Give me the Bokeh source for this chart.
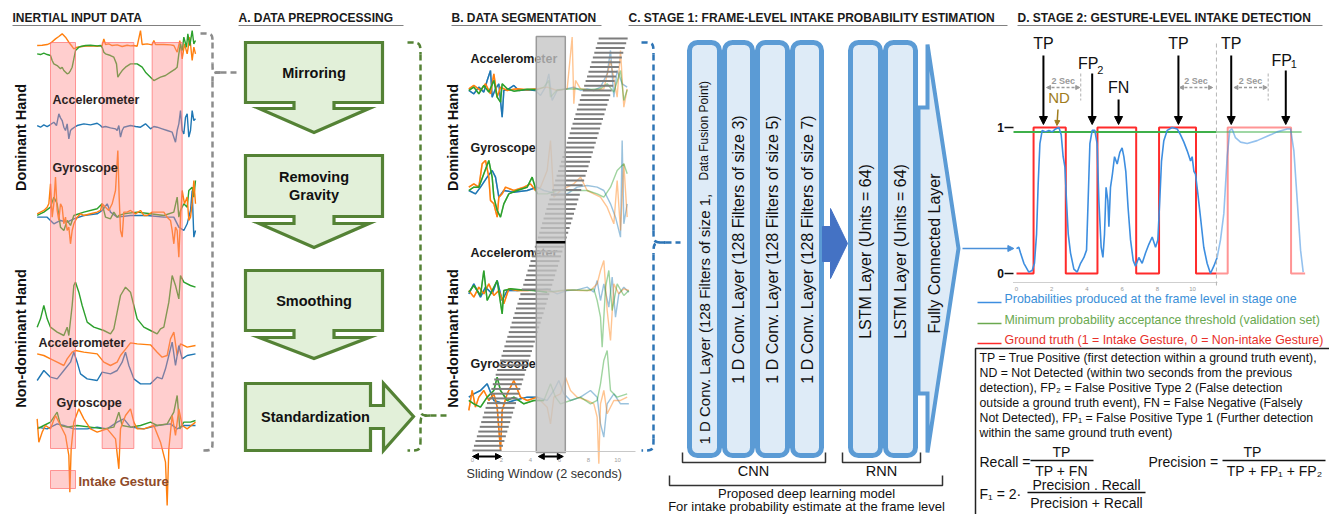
import numpy as np
from bokeh.plotting import figure
from bokeh.models import Range1d, Arrow, NormalHead
from bokeh.embed import file_html
from bokeh.resources import INLINE
from bokeh.core.properties import value

# ============================ DATA ============================
# ---- Inertial input data (sample index, sensor value in arbitrary units) ----
in_dacc_or_t = [4,7,10,12,15,17,19,21,23,25,26,28,32,36,40,43,44,45,47,49,52,55,58,60,62,64,66,67,70,73,74,75,80,84,86,88,89.6,91,92.4,94,95.6,97,98,99]
in_dacc_or_v = [0.5,0.6,0.8,1.2,2.5,3.2,4.0,3.0,1.5,0.2,-0.5,0.0,0.3,0.4,0.3,0.5,2.5,0.8,1.0,0.5,0.7,0.2,0.6,0.4,0.5,0.3,5.0,0.8,1.0,0.7,2.0,0.8,0.8,0.7,0.5,-1.5,2.0,-3.5,1.0,-2.0,3.0,-4.0,0.0,-2.0]
in_dacc_gr_t = [4,6,8,10,12,13,14,16,18,19,20,22,23,24,25,26,27,29,30,33,36,40,42,43,44,45,48,50,51.6,52.4,53.6,55,57,60,64,67,69,72,74,76,78,81,84,87,88,89,90,91,92,93.6,94.4,95.6,97,98,99]
in_dacc_gr_v = [-2.0,-2.2,-1.8,-2.2,-2.5,-4.0,-5.0,-5.5,-6.5,-6.0,-7.0,-8.0,-7.8,-7.0,-6.0,-3.5,-1.0,0.0,0.2,0.5,0.6,0.4,0.5,0.0,-1.5,-2.0,-2.5,-3.0,-5.0,-9.0,-8.0,-7.0,-6.0,-5.0,-5.0,-6.0,-7.5,-9.0,-10.0,-9.5,-9.0,-8.5,-7.5,-6.5,-6.0,-2.0,1.0,-1.0,3.0,0.0,4.0,0.5,5.0,1.0,2.0]
in_dacc_bl_t = [4,6,8,10,12,14,15.6,17,18,19,20,21,22,23,24,25,27,28,32,36,40,42,43,45,48,51,52,53,54,55,56,60,63,66,69,72,74,76,79,82,85,87,88,89,90,91,92,93,94,95,96,97,98,99]
in_dacc_bl_v = [0.5,0.0,0.7,0.2,0.8,1.5,0.5,4.0,2.8,2.0,0.0,-1.0,1.0,-3.5,-1.0,-0.5,0.2,0.5,1.0,0.7,1.2,0.5,0.0,0.2,-0.2,-0.5,-1.0,0.5,-3.0,-1.0,0.0,0.5,0.2,0.0,1.0,-0.5,0.2,0.0,-0.5,-1.0,-1.5,-4.5,-1.0,1.0,5.0,-1.0,-2.0,3.0,4.0,-3.0,-1.0,5.0,2.0,2.5]
in_dgyr_or_t = [4,6,8,10,11,12,13,14,15,16,17,18,19,20,21,22,23,24,25,26,28,30,32,36,40,42,43,45,47,49,51,52.4,53.2,54,55,56,58,60,63,66,68,70,73,76,80,82,84,85,86,87,88,89,90,91,92.4,94,95,96,97,98,99]
in_dgyr_or_v = [0,0.5,1.0,2.0,3.0,9.0,-1.0,3.0,11.0,1.0,-2.0,3.0,2.0,-3.0,-1.0,-5.0,-4.0,-9.0,-5.0,-3.0,-1.0,0,-0.5,0,0.5,1.0,3.0,2.0,1.0,3.0,7.0,19.0,5.0,-5.0,-7.0,0.5,0.5,1.0,0,1.0,-0.5,-0.5,0.5,0.5,0.5,-1.0,-2.0,-5.0,-9.0,-4.0,-5.0,-13.0,-1.0,7.0,3.0,5.0,-2.0,-1.0,3.0,10.0,3.0]
in_dgyr_gr_t = [4,8,12,14,16,18,20,22,24,26,32,40,43,45,48,50,52,53,56,64,72,80,86,88,89,90,92,94,95,97,98,99]
in_dgyr_gr_v = [-0.5,0.5,2.0,5.0,3.0,-4.0,-5.0,-2.0,-3.5,-0.5,0.5,1.5,3.0,-1.0,-1.5,0.5,-1.0,-0.5,0,0.5,0,-0.5,0.5,5.0,-1.0,1.0,3.0,2.0,7.0,8.0,5.0,10.0]
in_dgyr_bl_t = [4,10,14,18,22,26,32,40,43,46,48,52,60,70,80,86,89,92,94,96,97,98,99]
in_dgyr_bl_v = [-1.0,-1.0,-3.0,-2.0,-2.5,-1.5,-0.5,0,1.0,3.0,0.5,-1.0,-0.5,-0.5,-1.0,-1.0,-4.0,-5.0,-3.0,1.0,7.0,-7.0,-5.0]
in_nacc_gr_t = [4,6,8,10,12,16,20,22,23,25,26,27,29,31,34,38,44,48,50,52,54,57,60,62,64,68,72,76,78,80,83,85,87,89,90,92,96,99]
in_nacc_gr_v = [8.5,11.0,15.0,11.0,8.5,7.0,6.0,8.5,6.0,15.0,21.0,22.0,19.0,15.0,10.0,8.5,7.5,6.5,8.0,13.0,18.0,20.5,19.0,15.0,11.0,8.5,7.5,6.5,8.0,8.5,16.0,24.0,21.0,17.0,24.0,22.0,21.0,20.5]
in_nacc_or_t = [4,8,12,16,20,22,25,27,32,40,44,48,52,54,58,60,64,72,76,79,82,84,86,88,90,94,99]
in_nacc_or_v = [0.5,0,-1.0,-2.0,-3.0,-1.0,1.0,1.5,1.0,0.5,-2.0,-3.0,-2.0,0,2.5,3.8,3.5,3.2,1.0,-0.5,0,5.0,7.0,0,3.5,2.5,3.0]
in_nacc_bl_t = [4,8,12,16,20,24,26,28,30,34,40,43,48,52,55,57,59,62,66,72,76,79,81,83,85,87,89,91,94,99]
in_nacc_bl_v = [-7.5,-4.5,-6.5,-7.0,-4.5,-2.0,1.0,-2.0,-5.5,-7.0,-7.5,-5.0,-5.5,-4.5,-2.0,1.0,-3.0,-7.0,-8.5,-8.5,-6.5,-7.0,-4.0,0,4.0,-3.0,3.0,-1.0,0,0.5]
in_ngyr_or_t = [4,5,7,9,12,15,18,21,23,23.6,24.4,26,29,32,36,40,46,51,53,54,57,60,62,64,68,74,78,81,82,83,85,87,89,91,94,99]
in_ngyr_or_v = [2.0,-5.0,-2.0,0,-1.0,3.0,0,-3.0,-9.0,-20.0,-7.0,1.0,5.0,2.0,-1.0,-2.0,-1.0,-4.0,-13.0,-1.0,3.0,5.0,1.0,-1.0,-1.0,0,-5.0,-11.0,-24.0,-7.0,3.0,-3.0,5.0,0,-1.0,1.0]
in_ngyr_gr_t = [4,8,12,16,18,22,28,36,44,50,53,55,60,66,72,76,82,86,88,89.6,92,96,99]
in_ngyr_gr_v = [-1.0,0,1.0,4.0,0,-0.5,0,-0.5,-1.0,-0.5,4.0,0,-0.5,0,1.0,0,0.5,4.0,9.0,-1.0,1.0,1.0,1.5]
in_ngyr_bl_t = [4,10,16,20,26,34,40,46,52,56,60,68,76,84,88,92,99]
in_ngyr_bl_v = [-0.5,-1.0,0.5,0,-1.0,-1.0,-0.5,-1.0,1.0,2.0,-0.5,-1.0,0,0.5,-1.0,0,0]
intake_gestures = [(12, 27), (43, 62), (73, 91)]   # sample-index intervals

# ---- Data segmentation signals (sample index, value) ----
sg_dacc_bl_t = [5,8,11,14,16,18,19,21,23,25,26,29,32,35,40,45,48,51,53,55,58,64,68,72,76,80,84,88,90,92,94,97,100]
sg_dacc_bl_v = [-0.5,-1.5,0.5,-1.0,2.5,5.5,-2.5,0,1.5,-8.5,-0.5,0,1.0,-0.5,-0.3,-0.5,-2.0,0.5,4.5,-3.5,-0.5,0,0.5,-0.5,0,-0.5,0.5,4.5,11.5,-2.5,5.5,1.5,0.5]
sg_dacc_or_t = [5,8,12,15,18,20,22,24,28,34,40,46,52,58,64,67,68,69,72,80,86,90,94,96,98,100]
sg_dacc_or_v = [0,1.0,-0.5,1.5,-1.5,4.5,-2.5,0.5,-0.5,0,-0.3,0,0.5,-0.5,0,15.5,-4.5,2.5,0,-0.5,0,8.5,-2.5,11.5,-5.5,0]
sg_dacc_gr_t = [5,8,11,14,17,20,22,24,25,28,32,40,46,50,53,54,58,64,70,76,84,88,92,96,98,100]
sg_dacc_gr_v = [-0.5,0.5,-1.5,1.0,-1.0,2.5,-2.5,-4.0,1.5,0,-0.7,-0.1,-0.3,0.5,2.5,-2.5,-0.3,-0.1,0,-0.3,0,1.5,-1.0,5.5,-3.5,-0.3]
sg_dgyr_or_t = [5,8,11,13,15,17,18,20,22,23,25,27,32,38,42,45,48,52,54,56,60,64,68,72,76,84,88,92,94,96,98,100]
sg_dgyr_or_v = [1.0,2.0,1.0,8.0,9.0,4.0,-3.0,-4.0,-8.0,-2.0,-1.0,1.0,0,1.0,2.0,0,1.0,6.0,15.0,-2.0,0,1.0,2.0,4.0,0,-2.0,-5.0,-10.0,3.0,-12.0,8.0,-8.0]
sg_dgyr_gr_t = [5,8,11,14,17,19,20,22,24,26,29,34,40,43,46,52,58,64,70,76,82,86,90,94,98,100]
sg_dgyr_gr_v = [0,1.0,1.0,5.0,9.0,4.0,-2.0,-6.0,-8.0,-4.0,-1.0,0,1.0,4.0,-1.0,-1.0,0,0,0,0,-1.0,-2.0,1.0,6.0,8.0,5.0]
sg_dgyr_bl_t = [5,9,12,16,19,21,23,26,32,40,46,50,58,64,70,76,82,86,90,93,96,97,98,100]
sg_dgyr_bl_v = [0,-1.0,1.0,4.0,6.0,4.0,-2.0,0,-0.5,0,1.0,0,-1.0,-1.0,1.0,1.5,1.0,0,-4.0,-8.0,-14.0,15.0,-10.0,-4.0]
sg_nacc_bl_t = [5,8,12,15,19,22,25,28,34,40,46,52,58,64,70,76,80,82,84,86,89,91,93,95,98,101]
sg_nacc_bl_v = [-1.0,2.0,-2.0,1.0,-1.0,3.0,-3.0,0,0,0.2,0,0.5,-1.0,0,0.2,1.0,-0.5,3.0,-3.0,2.0,-5.0,4.0,-8.0,-1.0,1.0,-0.5]
sg_nacc_or_t = [5,8,11,14,17,20,23,26,29,34,40,48,56,64,72,78,82,84,86,88,90,92,95,98,101]
sg_nacc_or_v = [0,-2.0,1.0,-1.0,2.0,-1.5,0,-4.0,0.5,0,0,0.2,-0.5,0.2,0,0,2.0,6.0,9.0,-6.0,-15.0,2.0,-1.0,0.5,0]
sg_nacc_gr_t = [5,8,12,14,16,19,22,25,26,30,36,44,52,60,68,76,80,82,84,85,87,89,91,94,98,101]
sg_nacc_gr_v = [-0.5,1.5,-1.5,6.0,-3.0,0,3.0,-7.0,0,0.5,0.2,0,-0.5,0,0.2,0,0.5,-3.0,-8.0,-17.0,1.0,6.0,-6.0,2.0,-1.5,0]
sg_ngyr_or_t = [5,7,9,11,14,17,20,22,24,25,28,32,36,40,46,52,54,56,60,63,66,70,76,80,82,83,84,86,88,92,96,100]
sg_ngyr_or_v = [-3.5,2.5,-2.5,0.5,2.5,-0.5,1.5,-2.5,-15.5,-3.5,1.5,5.5,0.5,-0.5,0.5,-2.5,-7.5,0.5,1.5,6.5,2.5,0.5,-0.5,-1.5,-5.5,-19.5,-1.5,2.5,-4.5,-0.5,-0.5,0.5]
sg_ngyr_bl_t = [5,8,12,16,20,26,32,40,46,52,56,59,62,66,72,78,82,84,86,88,92,96,101]
sg_ngyr_bl_v = [0.5,1.5,2.5,4.5,-0.5,-1.5,-0.5,0.5,0.5,-0.5,2.5,5.5,1.5,-0.5,0.5,2.5,0.5,-7.5,-11.5,-1.5,1.5,-1.5,-1.5]
sg_ngyr_gr_t = [5,8,12,16,20,22,24,28,32,38,44,50,54,57,60,66,72,78,82,84,86,88,90,94,100]
sg_ngyr_gr_v = [-0.5,-1.5,-2.5,0.5,2.5,6.5,2.5,-0.5,0.5,-1.5,-0.5,-0.5,4.5,0.5,-1.5,-0.5,0.5,-1.5,-0.5,4.5,11.5,14.5,2.5,0.5,1.5]
seg_fade_after = 45          # samples beyond the current window are shown faded
window_sec = 2.0             # sliding window length (s)
window_step = 0.1            # sliding window step (s)
n_windows = 88
highlight_window = 44
seg_ticks = [0, 2, 4, 6, 8, 10]

# ---- Stage 1 network ----
cnn_layers = ["1 D Conv. Layer (128 Filters of size 3)",
              "1 D Conv. Layer (128 Filters of size 5)",
              "1 D Conv. Layer (128 Filters of size 7)"]
rnn_layers = ["LSTM Layer (Units = 64)", "LSTM Layer (Units = 64)"]

# ---- Stage 2: frame-level probabilities (time s, probability) ----
prob_t = [0.0,0.13,0.23,0.42,0.70,0.89,1.02,1.14,1.23,1.33,1.46,1.65,1.84,2.03,2.22,2.41,2.54,2.65,2.75,2.84,2.94,3.07,3.26,3.45,3.64,3.83,3.98,4.07,4.17,4.30,4.45,4.58,4.68,4.81,4.91,5.00,5.09,5.19,5.25,5.34,5.45,5.57,5.72,5.87,6.00,6.10,6.21,6.34,6.48,6.63,6.76,6.95,7.14,7.33,7.52,7.71,7.90,8.03,8.14,8.24,8.37,8.56,8.84,9.13,9.32,9.51,9.70,9.89,9.98,10.08,10.17,10.30,10.45,10.64,10.83,11.02,11.21,11.40,11.59,11.78,11.97,12.12,12.25,12.44,12.73,13.11,13.67,14.24,14.81,15.38,15.57,15.76,15.95,16.14,16.29]
prob_v = [0.17,0.18,0.14,0.07,0.01,0.02,0.07,0.27,0.61,0.89,0.98,0.97,0.98,0.97,0.99,1.00,0.95,0.80,0.73,0.50,0.27,0.14,0.03,0.01,0.07,0.11,0.16,0.50,0.89,0.98,0.98,0.89,0.50,0.18,0.11,0.27,0.59,0.50,0.32,0.59,0.68,0.80,0.75,0.83,0.86,0.80,0.70,0.45,0.23,0.09,0.05,0.11,0.07,0.14,0.20,0.25,0.18,0.23,0.50,0.77,0.91,0.98,1.00,0.99,0.95,0.90,0.84,0.77,0.80,0.70,0.68,0.55,0.39,0.18,0.07,0.00,0.05,0.11,0.23,0.41,0.80,0.98,0.99,0.93,0.90,0.89,0.91,0.94,0.97,0.99,0.99,0.84,0.50,0.16,0.01]
gt_events = [(0.97, 2.8), (4.6, 6.8), (8.1, 10.2), (12.0, 15.6)]
gt_end = 16.4
threshold = 0.97
t_cut = 11.36
event_labels = ["TP", "ND", "FP", "FN", "TP", "TP", "FP"]
event_subs = ["", "", "2", "", "", "", "1"]
event_t = [1.53, 2.3, 4.3, 5.8, 9.2, 12.2, 15.3]
detect_t = [1.65, 9.2, 12.3]
d_ticks = [0, 2, 4, 6, 8, 10]

# ============================ FIGURE ============================
W, H = 1329, 514
p = figure(width=W, height=H, x_range=Range1d(0, W), y_range=Range1d(H, 0),
           output_backend="svg", toolbar_location=None, min_border=0,
           x_axis_location=None, y_axis_location=None)
p.grid.visible = False
p.outline_line_color = None
p.background_fill_color = "white"

FONT = "Liberation Sans"
OR, BL, GR = "#ff7f0e", "#1f77b4", "#2ca02c"


def T(x, y, s, size=11, color="#000000", bold=False, align="left", baseline="middle", angle=0.0, alpha=1.0):
    p.text(x=[x], y=[y], text=[s], text_font=value(FONT), text_font_size=f"{size}px",
           text_color=color, text_font_style=("bold" if bold else "normal"),
           text_align=align, text_baseline=baseline, angle=angle, text_alpha=alpha)


def arrow(x0, y0, x1, y1, color="black", lw=2.0, size=8, dash="solid", both=False):
    end = NormalHead(size=size, fill_color=color, line_color=color)
    start = NormalHead(size=size, fill_color=color, line_color=color) if both else None
    p.add_layout(Arrow(x_start=x0, y_start=y0, x_end=x1, y_end=y1, end=end, start=start,
                       line_color=color, line_width=lw, line_dash=dash))


def brace(xl, xm, xr, yt, ytip, yb, r, tail, color, lw=2.5, dash="6 4"):
    kw = dict(line_color=color, line_width=lw, line_dash=dash)
    p.bezier(x0=[xl, xm, xr, xm], y0=[yt, ytip - r, ytip, yb - r],
             x1=[xm, xr, xm, xl], y1=[yt + r, ytip, ytip + r, yb],
             cx0=[xm, xm, xm, xm], cy0=[yt, ytip, ytip, yb],
             cx1=[xm, xm, xm, xm], cy1=[yt, ytip, ytip, yb], **kw)
    p.segment(x0=[xm, xm, xr], y0=[yt + r, ytip + r, ytip], x1=[xm, xm, tail], y1=[ytip - r, yb - r, ytip], **kw)


def trace(t, v, x0, sx, base, sy, color, lw=1.3, alpha=1.0):
    t = np.asarray(t, float)
    v = np.asarray(v, float)
    p.line(x0 + sx * t, base - sy * v, line_color=color, line_width=lw, line_alpha=alpha)


# ---------------- titles ----------------
titles = [(12, 200, "INERTIAL INPUT DATA"), (238, 403, "A. DATA PREPROCESSING"),
          (451, 601, "B. DATA SEGMENTATION"),
          (628, 1007, "C. STAGE 1: FRAME-LEVEL INTAKE PROBABILITY ESTIMATION"),
          (1017, 1322, "D. STAGE 2: GESTURE-LEVEL INTAKE DETECTION")]
for x0, x1, s in titles:
    T(x0, 17, s, 12, "#1a1a1a", bold=True)
    p.segment(x0=[x0], y0=[25], x1=[x1], y1=[25], line_color="#808080", line_width=1)

# ---------------- inertial input data ----------------
SX_IN, X0_IN, SY_IN = 5 / 3, 30, 10 / 3
rows_in = [
    (in_dacc_or_t, in_dacc_or_v, 46.7, OR), (in_dacc_gr_t, in_dacc_gr_v, 46.7, GR),
    (in_dacc_bl_t, in_dacc_bl_v, 126.7, BL),
    (in_dgyr_bl_t, in_dgyr_bl_v, 213.3, BL), (in_dgyr_gr_t, in_dgyr_gr_v, 213.3, GR),
    (in_dgyr_or_t, in_dgyr_or_v, 213.3, OR),
    (in_nacc_gr_t, in_nacc_gr_v, 355, GR), (in_nacc_or_t, in_nacc_or_v, 355, OR),
    (in_nacc_bl_t, in_nacc_bl_v, 355, BL),
    (in_ngyr_bl_t, in_ngyr_bl_v, 425, BL), (in_ngyr_gr_t, in_ngyr_gr_v, 425, GR),
    (in_ngyr_or_t, in_ngyr_or_v, 425, OR),
]
for t, v, base, c in rows_in:
    trace(t, v, X0_IN, SX_IN, base, SY_IN, c, lw=1.4)

p.quad(left=[X0_IN + SX_IN * a for a, b in intake_gestures],
       right=[X0_IN + SX_IN * b for a, b in intake_gestures],
       top=42, bottom=448, fill_color="#ff8a8a", fill_alpha=0.42,
       line_color="#ff6f6f", line_alpha=0.7, line_width=1)
p.quad(left=[50], right=[75], top=[470], bottom=[488], fill_color="#ff8a8a", fill_alpha=0.42,
       line_color="#ff6f6f", line_alpha=0.7)
T(78, 481, "Intake Gesture", 13, "#8f4a28", bold=True)

T(20, 137, "Dominant Hand", 14.5, "#111111", bold=True, align="center", angle=np.pi / 2)
T(20, 338, "Non-dominant Hand", 14.5, "#111111", bold=True, align="center", angle=np.pi / 2)
T(52, 99, "Accelerometer", 12.5, "#2a1f1f", bold=True)
T(52, 167, "Gyroscope", 12.5, "#2a1f1f", bold=True)
T(38, 342, "Accelerometer", 12.5, "#2a1f1f", bold=True)
T(56, 402, "Gyroscope", 12.5, "#2a1f1f", bold=True)

brace(200, 212, 220, 33, 72, 450, 9, 237, "#8c8c8c")

# ---------------- A. data preprocessing ----------------
GFILL, GLINE = "#e2f0d9", "#548235"
steps = [("Mirroring", None, 42, 102, 108, 132), ("Removing", "Gravity", 155, 216, 223, 247),
         ("Smoothing", None, 270, 330, 337, 358)]
bx0, bx1 = 245, 382
cx = (bx0 + bx1) / 2
for s1, s2, y0, y1, hb, tip in steps:
    xs = [bx0, bx1, bx1, cx + 20, cx + 20, cx + 55, cx, cx - 55, cx - 20, cx - 20, bx0]
    ys = [y0, y0, y1, y1, hb, hb, tip, hb, hb, y1, y1]
    p.patch(xs, ys, fill_color=GFILL, line_color=GLINE, line_width=3.2, line_join="miter")
    if s2 is None:
        T(cx, (y0 + y1) / 2, s1, 14.5, "#111111", bold=True, align="center")
    else:
        T(cx, (y0 + y1) / 2 - 9, s1, 14.5, "#111111", bold=True, align="center")
        T(cx, (y0 + y1) / 2 + 9, s2, 14.5, "#111111", bold=True, align="center")
xs = [245, 370, 370, 383, 383, 413, 383, 383, 370, 370, 245]
ys = [383, 383, 405, 405, 383, 416, 450, 428, 428, 450, 450]
p.patch(xs, ys, fill_color=GFILL, line_color=GLINE, line_width=3.2, line_join="miter")
T(315, 416, "Standardization", 14.5, "#111111", bold=True, align="center")

brace(407, 420, 430, 42, 415, 450, 12, 447, GLINE)

# ---------------- B. data segmentation ----------------
SX_SG, X0_SG, SY_SG = 5 / 3, 460, 10 / 3
rows_sg = [
    (sg_dacc_bl_t, sg_dacc_bl_v, 88.3, BL), (sg_dacc_or_t, sg_dacc_or_v, 88.3, OR),
    (sg_dacc_gr_t, sg_dacc_gr_v, 88.3, GR),
    (sg_dgyr_bl_t, sg_dgyr_bl_v, 190, BL), (sg_dgyr_or_t, sg_dgyr_or_v, 190, OR),
    (sg_dgyr_gr_t, sg_dgyr_gr_v, 190, GR),
    (sg_nacc_bl_t, sg_nacc_bl_v, 290, BL), (sg_nacc_or_t, sg_nacc_or_v, 290, OR),
    (sg_nacc_gr_t, sg_nacc_gr_v, 290, GR),
    (sg_ngyr_bl_t, sg_ngyr_bl_v, 398.3, BL), (sg_ngyr_or_t, sg_ngyr_or_v, 398.3, OR),
    (sg_ngyr_gr_t, sg_ngyr_gr_v, 398.3, GR),
]
for t, v, base, c in rows_sg:
    trace(t, v, X0_SG, SX_SG, base, SY_SG, c, lw=1.4, alpha=0.45)
    ta = np.asarray(t, float)
    k = int(np.searchsorted(ta, seg_fade_after)) + 1
    trace(t[:k], v[:k], X0_SG, SX_SG, base, SY_SG, c, lw=1.5, alpha=1.0)

T(470, 58, "Accelerometer", 12.5, "#1a1a1a", bold=True)
T(470, 147, "Gyroscope", 12.5, "#1a1a1a", bold=True)
T(470, 252, "Accelerometer", 12.5, "#1a1a1a", bold=True)
T(470, 363, "Gyroscope", 12.5, "#1a1a1a", bold=True)

# sliding windows
SEC = 14.5
SX0 = 472
y_bot, y_top = 450, 38
dy = (y_bot - y_top) / (n_windows - 1)
ws = np.arange(n_windows) * window_step
wy = y_bot - np.arange(n_windows) * dy
p.segment(x0=SX0 + SEC * ws, y0=wy, x1=SX0 + SEC * (ws + window_sec), y1=wy,
          line_color="#7d7d7d", line_width=2)
hx0 = SX0 + SEC * ws[highlight_window]
hx1 = SX0 + SEC * (ws[highlight_window] + window_sec)
p.quad(left=[hx0], right=[hx1], top=[36], bottom=[452], fill_color="#c4c4c4", fill_alpha=0.78,
       line_color="#9a9a9a", line_width=1.5)
p.segment(x0=[hx0], y0=[wy[highlight_window]], x1=[hx1], y1=[wy[highlight_window]],
          line_color="black", line_width=2.5)

p.segment(x0=[SX0], y0=[451], x1=[635], y1=[451], line_color="#c8c8c8", line_width=1)
for tk in seg_ticks:
    T(SX0 + SEC * tk, 459, str(tk), 6, "#a0a0a0", align="center")
arrow(SX0, 456, SX0 + SEC * window_sec, 456, size=6, lw=1.8, both=True)
arrow(hx0 + 2, 456, hx1 - 2, 456, size=6, lw=1.8, both=True)
T(466, 473, "Sliding Window (2 seconds)", 12.6, "#333333")

T(452, 137, "Dominant Hand", 14.5, "#111111", bold=True, align="center", angle=np.pi / 2)
T(452, 338, "Non-dominant Hand", 14.5, "#111111", bold=True, align="center", angle=np.pi / 2)

brace(641, 653, 665, 42, 242, 450, 12, 680, "#2e75b6")

# ---------------- C. stage 1 network ----------------
BFILL, BLINE = "#deebf7", "#5b9bd5"
cnn_x = [(689, 719), (724, 752), (757, 787), (792, 821)]
rnn_x = [(850, 880), (885, 915)]
p.quad(left=[a for a, b in cnn_x + rnn_x], right=[b for a, b in cnn_x + rnn_x], top=42, bottom=455,
       fill_color=BFILL, line_color=BLINE, line_width=5, border_radius=8)
T((cnn_x[0][0] + cnn_x[0][1]) / 2, 444, "1 D Conv. Layer (128 Filters of size 1,", 15, "#111111",
  align="left", angle=np.pi / 2)
T((cnn_x[0][0] + cnn_x[0][1]) / 2 - 1, 180, "Data Fusion Point)", 12, "#111111", align="left",
  angle=np.pi / 2)
for (a, b), s in zip(cnn_x[1:], cnn_layers):
    T((a + b) / 2, 249, s, 16, "#111111", align="center", angle=np.pi / 2)
for (a, b), s in zip(rnn_x, rnn_layers):
    T((a + b) / 2, 251, s, 16, "#111111", align="center", angle=np.pi / 2)
p.patch([822, 830, 830, 847, 830, 830, 822], [226, 226, 208, 243, 278, 261, 261],
        fill_color="#4472c4", line_color="#4472c4", line_width=1)
p.patch([918, 927, 927, 958, 927, 927, 918], [107, 107, 44, 248, 452, 393, 393],
        fill_color=BFILL, line_color=BLINE, line_width=4, line_join="miter")
T(934, 253, "Fully Connected Layer", 16, "#111111", align="center", angle=np.pi / 2)


def bracket(x0, x1, y0, y1, lw=1.5):
    p.line([x0, x0, x1, x1], [y0, y1, y1, y0], line_color="#333333", line_width=lw)


bracket(682, 825, 452, 462)
bracket(842, 920, 452, 462)
bracket(669, 942, 475, 485)
T(753, 470, "CNN", 14.5, "#111111", align="center")
T(881, 470, "RNN", 14.5, "#111111", align="center")
T(806, 493, "Proposed deep learning model", 13, "#111111", align="center")
T(806, 506, "For intake probability estimate at the frame level", 13, "#111111", align="center")

# ---------------- D. stage 2 ----------------
DX0, DSX, DY0, DSY = 1016, 17.6, 273, 146


def DX(t):
    return DX0 + DSX * np.asarray(t, float)


def DY(v):
    return DY0 - DSY * np.asarray(v, float)


arrow(962, 248, float(DX(-0.15)), 248, color="#4a90d9", lw=1.5, size=6)
p.segment(x0=[float(DX(-0.2))], y0=[282], x1=[1217], y1=[282], line_color="#cfcfcf", line_width=1)
for tk in d_ticks:
    T(float(DX(tk)), 288, str(tk), 6, "#999999", align="center")
T(1000, float(DY(1)), "1", 12, "#111111", bold=True, align="center")
T(1000, float(DY(0)), "0", 12, "#111111", bold=True, align="center")
p.segment(x0=[1004, 1004], y0=[float(DY(1)), float(DY(0))], x1=[1013, 1013],
          y1=[float(DY(1)), float(DY(0))], line_color="#111111", line_width=1.5)

gx, gy = [0.0], [0.0]
for a, b in gt_events:
    gx += [a, a, b, b]
    gy += [0, 1, 1, 0]
gx.append(gt_end)
gy.append(0)
gx = np.array(gx)
gy = np.array(gy, float)
k = int(np.searchsorted(gx, t_cut))
g1x = np.append(gx[:k], t_cut)
g1y = np.append(gy[:k], 0)
g2x = np.insert(gx[k:], 0, t_cut)
g2y = np.insert(gy[k:], 0, 0)
p.line(DX(g1x), DY(g1y), line_color="#ff2b2b", line_width=2)
p.line(DX(g2x), DY(g2y), line_color="#ff2b2b", line_width=2, line_alpha=0.5)

p.line(DX([-0.17, t_cut]), DY([threshold, threshold]), line_color="#3fb04a", line_width=2)
p.line(DX([t_cut, 16.2]), DY([threshold, threshold]), line_color="#3fb04a", line_width=2, line_alpha=0.5)

pt = np.array(prob_t)
pv = np.array(prob_v)
m1 = pt <= 11.40 + 1e-9
m2 = pt >= 11.40 - 1e-9
p.line(DX(pt[m1]), DY(pv[m1]), line_color="#3d8ee0", line_width=1.6)
p.line(DX(pt[m2]), DY(pv[m2]), line_color="#3d8ee0", line_width=1.6, line_alpha=0.55)

p.segment(x0=[float(DX(t_cut))], y0=[43], x1=[float(DX(t_cut))], y1=[287],
          line_color="#b5b5b5", line_width=1, line_dash="4 3")

label_y = [43, 97, 63, 87, 43, 43, 60]
start_y = [55, 109, 73, 99, 55, 55, 70]
for lab, sub, t, ly, sy in zip(event_labels, event_subs, event_t, label_y, start_y):
    x = float(DX(t))
    if lab == "ND":
        T(x + 2, ly, lab, 15, "#a07d1c", align="center")
        arrow(x + 1, sy, x, 125, color="#a07d1c", lw=1.5, size=5)
        continue
    if sub:
        T(x - 4, ly, lab, 16, "#111111", align="center")
        T(x + 5, ly + (6 if sub == "2" else 3), sub, 11, "#111111", align="left")
    else:
        T(x, ly, lab, 16, "#111111", align="center")
    arrow(x, sy, x, 124, lw=2, size=8)

for d in detect_t:
    x0, x1 = float(DX(d)), float(DX(d + 2.0))
    arrow(x0 + 1, 87, x1 - 1, 87, color="#9a9a9a", lw=1.3, size=4, dash="3 2", both=True)
    T((x0 + x1) / 2, 80, "2 Sec", 9, "#9a9a9a", bold=True, align="center")
for d in (detect_t[0], detect_t[2]):
    xe = float(DX(d + 2.0))
    p.segment(x0=[xe], y0=[73], x1=[xe], y1=[100], line_color="#b0b0b0", line_width=1, line_dash="3 2")

leg = [("Probabilities produced at the frame level in stage one", "#3d8ee0", "#3a8fd8", 298),
       ("Minimum probability acceptance threshold (validation set)", "#6aa84f", "#6aa84f", 319),
       ("Ground truth (1 = Intake Gesture, 0 = Non-intake Gesture)", "#ff2b2b", "#e8302a", 339)]
for s, lc, tc, y in leg:
    p.segment(x0=[977], y0=[y + 4], x1=[1001], y1=[y + 4], line_color=lc, line_width=1.5)
    T(1004, y, s, 12.4, tc)

p.quad(left=[975], right=[1340], top=[348], bottom=[520], fill_color=None, line_color="#222222",
       line_width=1.5)
defs = ["TP = True Positive (first detection within a ground truth event),",
        "ND = Not Detected (within two seconds from the previous",
        "detection), FP\u2082 = False Positive Type 2 (False detection",
        "outside a ground truth event), FN = False Negative (Falsely",
        "Not Detected), FP\u2081 = False Positive Type 1 (Further detection",
        "within the same ground truth event)"]
for i, s in enumerate(defs):
    T(979, 357 + 15 * i, s, 12.3, "#111111")

T(979, 461, "Recall =", 14, "#111111")
T(1061, 451, "TP", 14, "#111111", align="center")
p.segment(x0=[1030], y0=[460], x1=[1093], y1=[460], line_color="#111111", line_width=1.3)
T(1061, 470, "TP + FN", 14, "#111111", align="center")
T(1148, 461, "Precision =", 14, "#111111")
T(1252, 451, "TP", 14, "#111111", align="center")
p.segment(x0=[1222], y0=[460], x1=[1325], y1=[460], line_color="#111111", line_width=1.3)
T(1274, 470, "TP + FP\u2081 + FP\u2082", 14, "#111111", align="center")
T(979, 493, "F\u2081 = 2\u00b7", 14, "#111111")
T(1086, 484, "Precision . Recall", 14, "#111111", align="center")
p.segment(x0=[1027], y0=[492], x1=[1145], y1=[492], line_color="#111111", line_width=1.3)
T(1086, 502, "Precision + Recall", 14, "#111111", align="center")

open("out.html", "w").write(file_html(p, INLINE))
